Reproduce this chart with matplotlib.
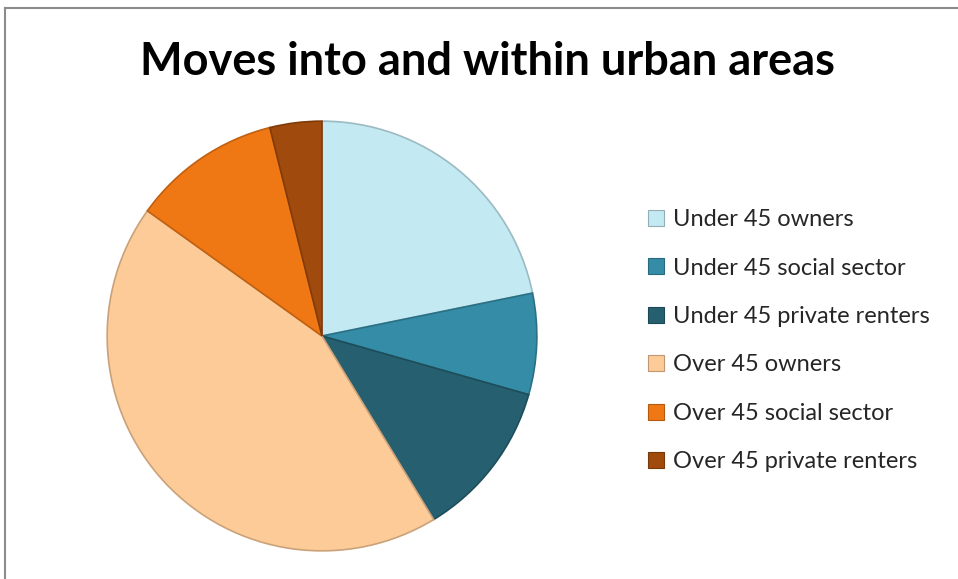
import matplotlib.pyplot as plt
from matplotlib.lines import Line2D
from matplotlib.colors import to_rgb

# ------------------------------
# Data
# ------------------------------
labels = [
    "Under 45 owners",
    "Under 45 social sector",
    "Under 45 private renters",
    "Over 45 owners",
    "Over 45 social sector",
    "Over 45 private renters",
]
shares = [21.8, 7.6, 11.9, 43.6, 11.2, 3.9]
colors = ["#C3E9F2", "#358CA6", "#266070", "#FCCB98", "#F07814", "#A04A0D"]

title = "Moves into and within urban areas"

W, H = 958, 579
fig = plt.figure(figsize=(W / 100, H / 100), dpi=100)
fig.patch.set_facecolor("white")

# grey chart frame (top and left edges visible)
fig.add_artist(Line2D([5 / W, 5 / W], [0, 1 - 8 / H], color="#8c8c8c", lw=1.5))
fig.add_artist(Line2D([5 / W, 1], [1 - 8 / H, 1 - 8 / H], color="#8c8c8c", lw=1.5))

# ------------------------------
# Pie
# ------------------------------
cx, cy, r = 322, 336, 217
ax = fig.add_axes([(cx - r) / W, (H - cy - r) / H, 2 * r / W, 2 * r / H])


def shade(c, f):
    rgb = to_rgb(c)
    return tuple(min(1, v * f) for v in rgb)


wedges, _ = ax.pie(
    shares,
    colors=colors,
    startangle=90,
    counterclock=False,
    radius=1,
    wedgeprops=dict(linewidth=1.2),
)
for w, c in zip(wedges, colors):
    w.set_edgecolor(shade(c, 0.8))

ax.set_xlim(-1.01, 1.01)
ax.set_ylim(-1.01, 1.01)
ax.set_aspect("equal")

# ------------------------------
# Title and legend
# ------------------------------
fig.text(487 / W, 1 - 62 / H, title, ha="center", va="center",
         fontsize=32.5, fontweight="bold", family="Lato")

handles = [
    Line2D([], [], marker="s", linestyle="none", markersize=12,
           markerfacecolor=c, markeredgecolor=shade(c, 0.75), markeredgewidth=0.8)
    for c in colors
]
leg = fig.legend(
    handles, labels,
    loc="upper left",
    bbox_to_anchor=(625 / W, 1 - 188 / H),
    frameon=False,
    prop={"family": "Lato", "size": 17},
    labelspacing=1.16,
    handlelength=0.8,
    handletextpad=0.35,
    labelcolor="#262626",
)

fig.savefig("out.png", dpi=100)
